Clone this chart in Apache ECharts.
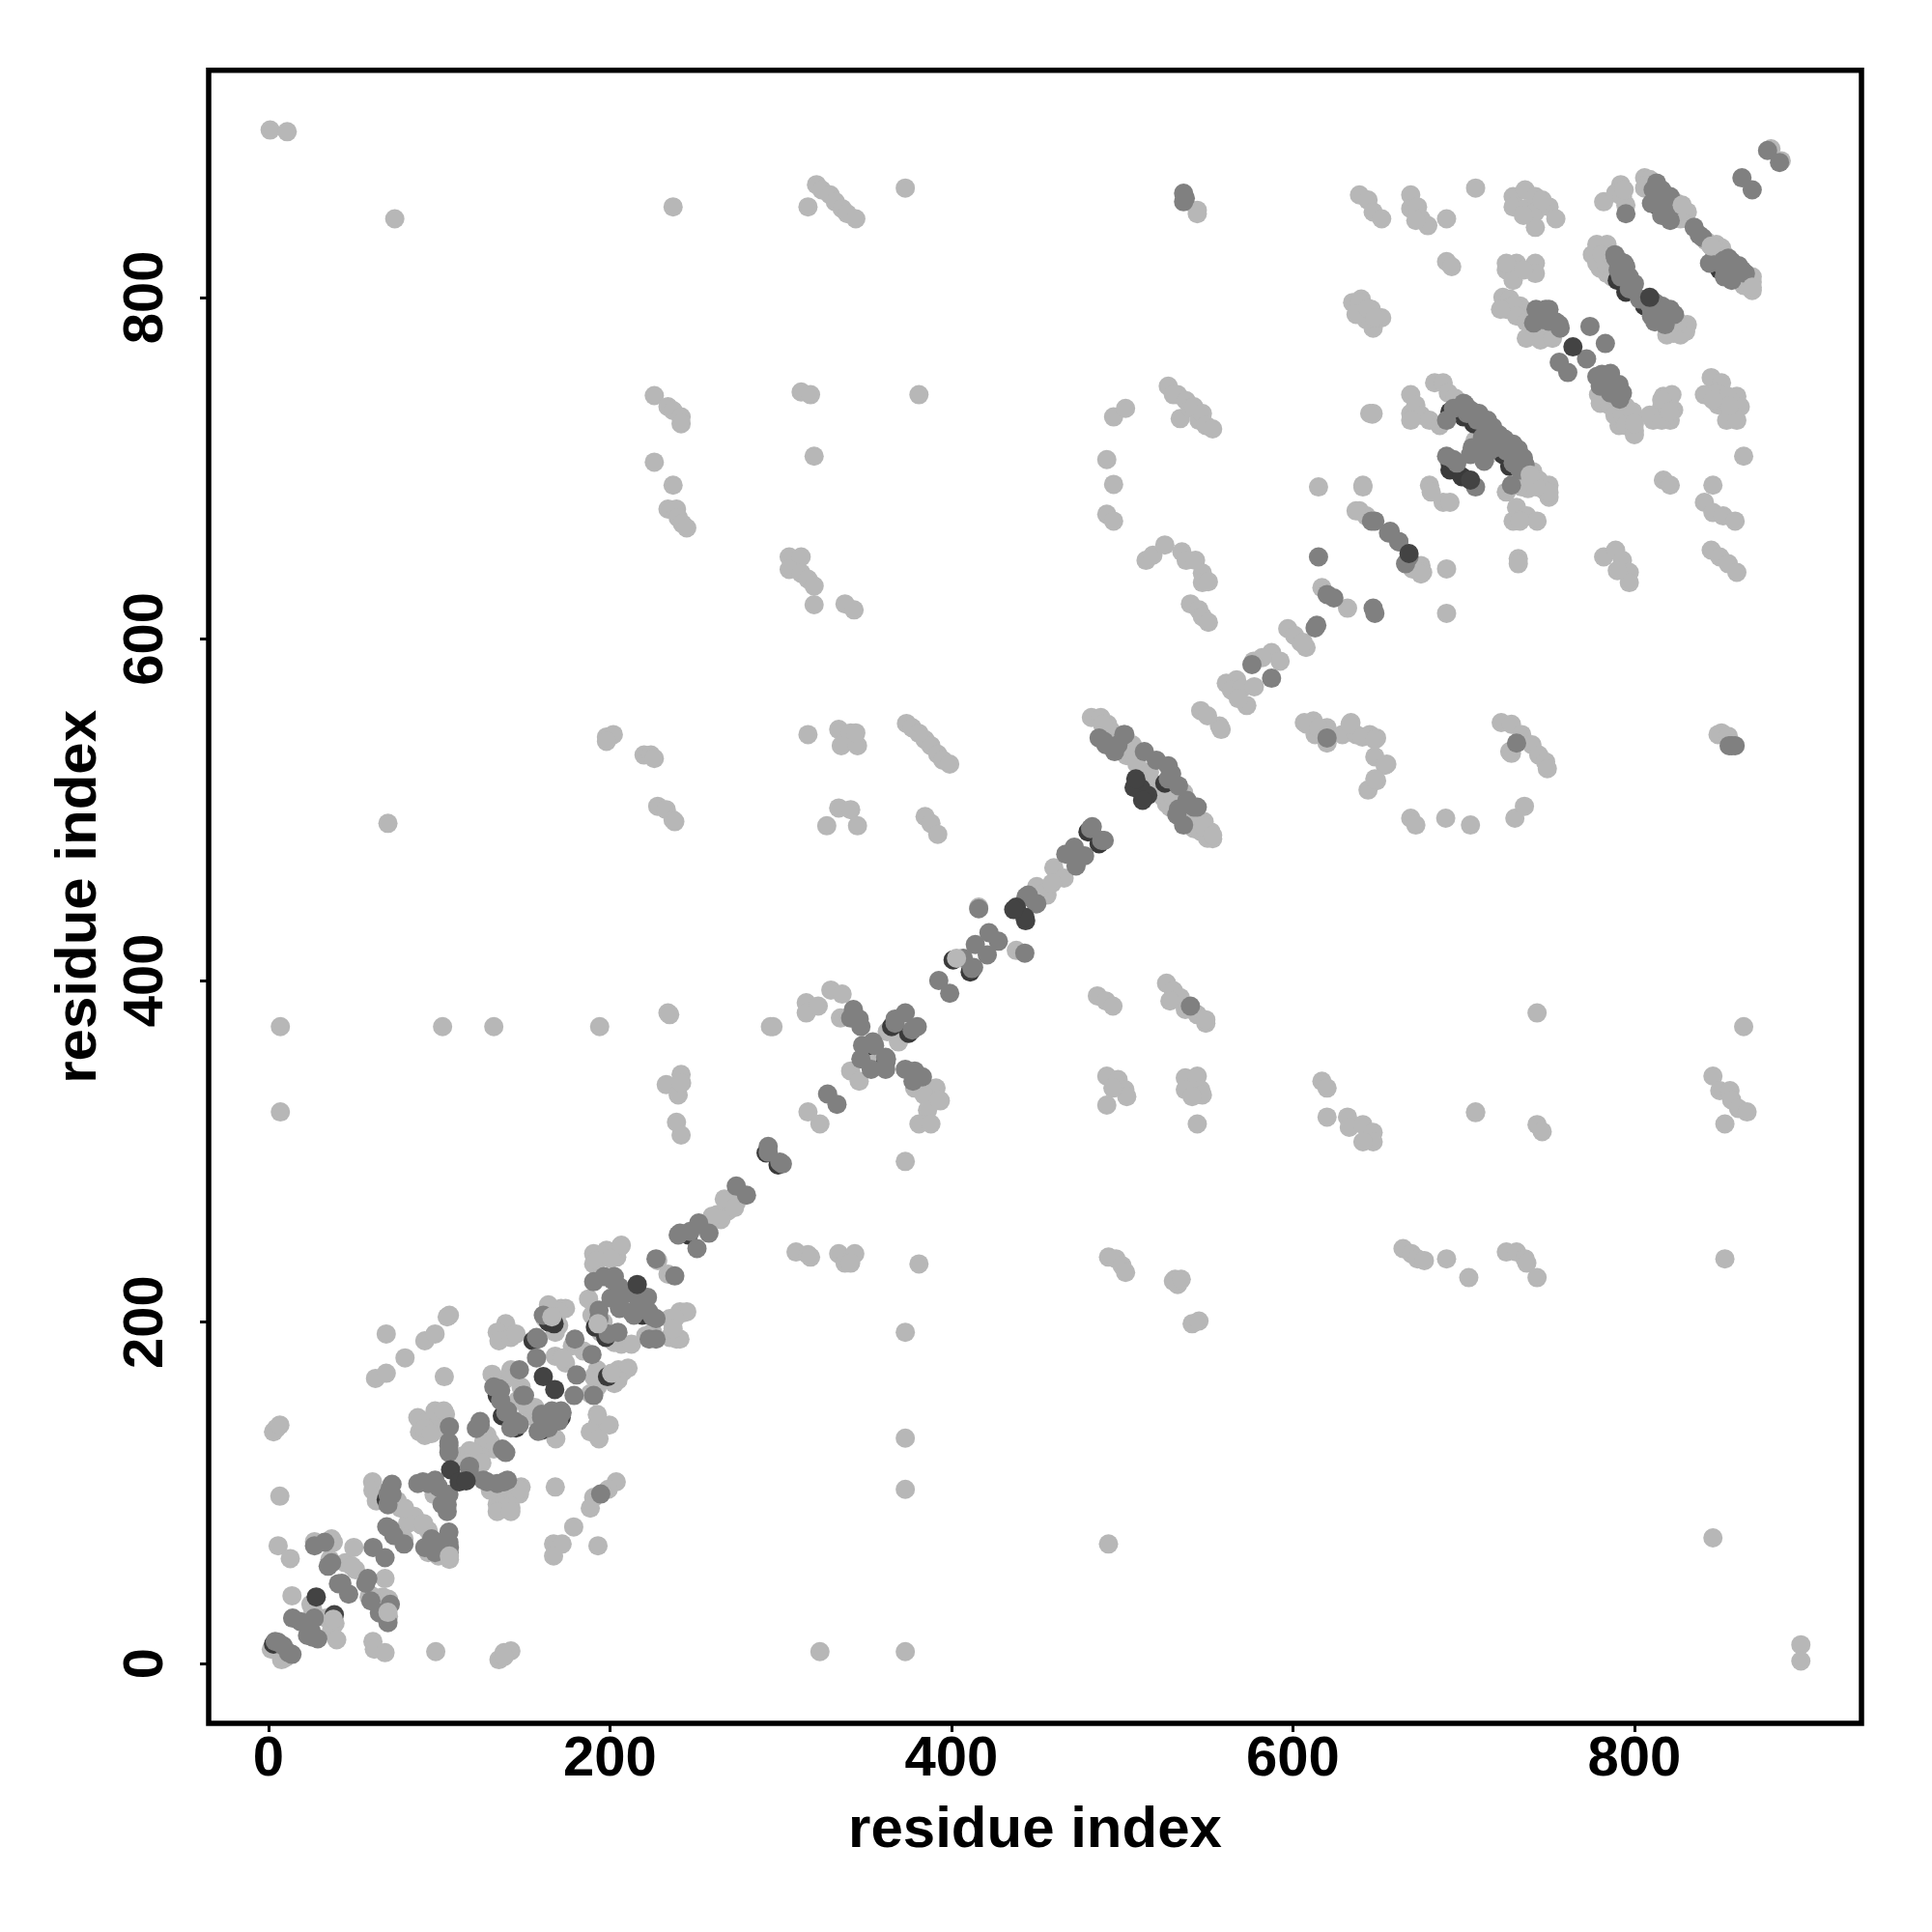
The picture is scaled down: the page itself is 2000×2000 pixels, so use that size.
<!DOCTYPE html>
<html><head><meta charset="utf-8"><style>html,body{margin:0;background:#fff}#c{width:2000px;height:2000px}</style>
<script src="https://cdn.jsdelivr.net/npm/echarts@6/dist/echarts.min.js"></script></head><body><div id="c"></div>
<script>
const tickValues=[0,200,400,600,800];
const axisTitle="residue index";
const lightPoints=[
[1,898],[11,897],[74,846],[237,853],[316,853],[321,866],[324,863],[329,860],[332,856],[336,852],[339,849],[344,846],[373,864],[544,851],[544,849],
[639,860],[644,857],[647,850],[652,846],[669,860],[669,852],[673,853],[675,846],[679,842],[672,845],[690,846],[707,864],
[729,859],[729,853],[736,863],[736,852],[742,859],[742,850],[750,853],[754,846],[742,841],[735,848],[746,857],
[782,856],[792,866],[789,861],[793,859],[795,854],[794,863],[806,870],[809,869],[808,866],[806,864],[828,852],[830,848],[823.5,851.6],[825,855],[831,850],[827,846],[845,830],[851,829],[842,833],[848,831],[852,826],[847,825],[869,809],[869,804],[864,807],[869,812],[880,887],[886,880],
[690,821],[693,818],[725,816],[731,820],[742,820],[742,814],[729,810],[725,820],[735,816],
[779,829],[779,823],[780,817],[784,814],[778,831],[784,831],[775.4,825],[778,820],[781,825],[784,818],[786,825],[787,812],[824,786],[830,780],[823,779],[821.6,780],[827,778],[831,784],[825.4,785.6],[819,778],
[640,799],[646,793],[652,788],[647,782],[638,793],[643,787],[635,797],[639,797],[637,790],[644,793.6],[648,788],
[723,800],[727,799],[725,793],[733,795],[735,789],[741,782],[748,780],[745,775],[742.4,778],[736.7,776],[746,776],[752,776],[729,795],[731,789],[721.6,793],[736.7,785.6],
[779,743],[780,738],[795,736],[800,728],[800,722],[791,725],[785.7,736.6],[788.6,731],[793,731],[799,733],[795,725],[800,719.6],
[817,742],[822,743],[811,728],[821,728],[816,736],[809,731],[816,728],[816,740],[823,734],[820.6,733],
[845,753],[841,743],[851,750],[849,737],[860,742],[862,736],[854,728],[860,728],[848,744],[854.6,742],[855.5,736.6],[846,740],[864,707],
[817,693],[821,690],[846,690],[841,680],[846,674],[852,672],[859,669],[845,652],[850,648],[855,644],[860,639],
[782,648],[789,652],[793,646],[797,639],[797,633],[790,640],[732,647],[732,644],
[645,732],[647,732],[669,743],[669,732],[672,737],[675,731],[680,728],[686,725],[669,728],
[683,750],[688,750],[691,744],[695,741],[713,706],[708,712],[706.6,716],[739,694],[746,688],[750,683],[736,691],[750,690],[740.5,698],[744,693],[748,686.6],[750,685.7],[734,689],[737.7,688],[742.4,689],
[641,690],[680,690],[688,680],[681,686],[692,680],[725,686],[731,677],[729,669],[737,672],[743,669],[733,669],
[639,675],[643,672],[675,643],[676,639],[690,641],
[482,554],[487.5,554],[491.5,550],[493.6,546],[488.5,550],[506,538],[504,532],[502.6,531.7],[506.7,531.7],[508.7,526.7],[514.8,519.6],[517.8,515.6],[516,522],[534,511.6],[536,510],[526,503.5],[523.9,507.5],[528,501.5],[530,507.5],[538,496.4],[548,493],[552,487],[553,483],[544,496],[542,489],[546,487.3],[550,483.3],
[460,466],[466,460],[450,455],[456,450],[454,451],[459,457],[438,417.6],[416,443],
[546,558],[557,549],[550,555],[558,547],[561,574],[567,576],[564,570],[570,571],[573,561],[577.4,572],[577,587],[587.5,592],[592.5,587],[568,565],[582,589],[604.7,598],[607.7,595],
[597,606],[601,602],[606,598],[617,630],[632,618],[615,689],[641,689],[637,675],[670,641],[675,638],[690,615],
[606.7,551],[612,552],[613,544],[620,548],[620,539],[629,544],[634,551],[637,544],[645,544],[649,542],[648,531],[654,526],[644,511.5],[649,517],
[669,495],[672,491],[689.5,495],[704,491],[730,495],[735.6,502],[722,551],[728,550],[734,544],[740,538],[728,533],[744,532],[748,528],[749,524],
[485.5,391],[490.5,388],[494.6,385],[526,398.4],[530,394],[534,390],[544,380],[549,375],[528,388],[537,383],[743,381],
[491,344],[497.6,342],[501.6,336],[502.7,332],[494.6,337],[491,327],[537,343],[544,344],[537,336],[546,336],[547,333],[541,332],[544,316],
[617,341],[620,337],[620,320],[632,320],[633,314],[641,315.6],[647,311],[647,305.5],[641,305.5],[707,322.6],[743,315.6],[746,311.5],
[315,387],[315,381],[322,385],[329.4,394.4],[336,392],[335,378],[295.5,373],[362.4,370],[369,364],[356,352],[350,358],[341,347],[346,341],[316,323],[323,316],
[378.5,337],[391,337],[384,333],[393.5,329.5],[386,324],[381,316],[388,316],[373,294],
[263,263],[269,265],[274,270],[265,260],[260,262],[267,272],[273,267],[228,236],[234,228],
[190.5,240],[190.5,234],[198,242],[206,244],[204,238],[192.6,236],[201.6,241],[206.7,245],[200.6,237],[187.5,213.5],[205.6,210],[243,205.4],[241,206],[235,202],[245,206],[238,202],[239,190],[235,191],[241,190],[237,196],[225,194],[221,192],[189.5,204],[196,200],[194.6,200],[198.6,194],[202.6,188],[206.7,187],[194.6,194],[212.6,187],
[171.4,208],[166,205],[174,208],[170,206],[164,210],[162,202],[170,198],[178,186],[168,180],[174,176],[168,194],[184.5,183],[172.4,179],[190.5,168],[192.6,172],[205,172],[210.6,173],[202.6,164],[188.5,158],[192.6,162],[207.7,171],[204.7,166],[192.6,166],[143,168],[142,172],[138,166],[148,162],[146,154],[152,148],[156,150],[131,169.4],[158,142],[168.3,131.6],
[139,199],[134,194],[135,189],[142,191],[145,193],[69,193],[80,179],[91.6,189],[97.6,193],[104.7,203],[106,204],[62.7,167],[69,170],[103,168],
[4.7,137.7],[3,135.7],[6.7,139.7],[88.5,143],[88.5,135.7],[87.5,144],[93.6,142],[99.6,145],[103.7,146],[91.6,133.6],[101.7,137.7],[97.6,148],[102.7,148],[91.6,137.7],[95.6,134.7],
[128,133.7],[130,129.6],[126,129.6],[132,125.6],[117.8,124.6],[124,121.5],[113.8,121.5],[120,123.6],[125,117.5],[115.8,117.5],[132,103.4],[136,99.3],[142,102.4],[148,103.4],[147,99.3],[138,93.3],[134,93.3],[142,91.3],[130,101.4],[145,100],[134,89],[142,89],[147,102],[97,99],
[61,106.4],[61.2,101.4],[63.2,95.3],[75.4,95.3],[77.4,91],[85.5,86.2],[89.5,81.2],[93.6,78],[81.5,82],[75.4,76],[64,98],[79.8,91],[91,82],[79.4,73],[97.6,71],[93.6,65],[99.6,63],[101.7,65],[106,61],[168,103.4],[178.8,80],[167,70],[172,70],[167,63],[193,69],[190.5,97.3],[188.5,91],[203.7,106.4],[199,102],
[192.6,139.7],[199.6,139.7],[188.5,135.7],[193.6,131.6],[192.6,145.8],[6.7,98],[5.7,69],[12.8,61.5],[27,71.4],[38,71],[37,73],[36,61],[45,59],[51,55],[50,68],[49,57],[68.3,49.8],[70.3,37.7],[59,39],[67,39],[60,40],[70.3,27.6],
[13.8,39.7],[24.9,34.7],[26,31.6],[34,26.6],[38,25.6],[39,23.6],[37,19.5],[40,13.9],[1.7,8.4],[7.7,2.3],[9.7,3.3],[61.2,12.9],[62,8.4],[68.3,6.4],[98,7],[138,6.4],[142,7.4],[135,2.3],[138,4],
[846,73.6],[492,70],[373,7],[323,7],[897.5,11],[897.5,1.5],[373,102],[373,132],[373,194],[7,323],[7,373],[102,373],[132,373],[194,373],[294,373],[707,323],[853,316],
[853,237],[703,226],[690,237],[664.5,243],[669.5,240],[673,237],[677,236],[725,241],[731,241],[736,237],[737,234.5],[743,226],[492,238],[496.4,237],[500,233],[502,229],
[531,225],[532.5,222],[530,224],[534.6,225],[541,199],[545,200.6],[309,241],[316,239.5],[317.5,238],[334,240],[343.4,240],[337.7,234.5],[341,234.5],[381,234],
[234,381],[235,380],[241.7,345],[233,339],[240,333],[242,340],[239,317],[241.7,309.5],
[198,542.6],[202,544],[198,540],[220,532],[224,532],[226,530],[228,502],[233,500],[237,494],[238,493],[70,492],
[316,544],[334,547],[341,545],[335.5,537.5],[345,537.5],[344,545],[334,501],[341,500],[345,490.6],[327,490.6],
[373.7,550.5],[377,548],[384.6,541],[388,537.5],[392,532.5],[395,529],[399,526.7],[381,544.7],[384.6,496],[388,492],[392,485.6],
[608,550],[615,548],[633.5,550],[640.7,542.6],[648,541],[655,526.7],[648,518],[727,534],[851,545],[849,544],[855,543],
[491,705],[495,690.5],[491,673],[495,669],[495,730],[502,735],[514,646],[518,649],[525,655],[535,651],[537.5,646],[543,646],[547,638.5],[547,633],[550.5,633.5],[540,620.5],[545,617],[547,613],[550.5,609.7],
[527,748],[532.5,743],[530,743],[537.5,739.5],[534,729],[540,735],[545,728],[542,736],[547,732],[549,725],[553,723],
[319.6,707],[312,744.6],[317.5,743],[381,743],[305,648],[312,648],[305,640.7],[312,638.5],[316,635],[319.6,631],[319.6,620],[337.7,620.5],[343,617],
[226,742.5],[234,736],[237,733.7],[241.7,730],[241.7,726],[226,703.5],[237,690],[234,676],[239,676],[240,671],[242.5,667.4],[245,665],
[646.5,731.6],[846,344],[850,335.5],[856,335.5],[857,330],[861,325],[866,323],[864,373]
];
const midPoints=[
[536,861],[536,856],[537,858],
[795,849],[811,863],[813,867],[816,863],[814,858],[810,855],[816,848],[819,857],[821,859],[821,845],[824,854],[814,856],[818,854],[835,841],[838,836.5],[840,835],[844,820],[852,821.5],[856.5,818],[861,818.6],[865,814],[852.7,812],[857,810],[852,818],[855,823],[857,821],[863,816],[863,870],[869,863],[878,886],[885,879],
[788.6,825],[791,821.5],[795,818],[790.5,816],[797,812],[799,806],[803,799],[812,797],[810,793],[814,790.3],[823.5,790],[816,785.6],[812,785.6],[792,812],[797,805],[808,797],[789,823],[794,820],[800,808],[816,795],[821,793],[810,789],[818,784],
[745,792],[742.4,793],[746,787],[754,785.6],[756.5,782],[750,793],[748,793],[756,784],[741,785],[750,786],[774,783],[783,773],[772,764],[756,762],[761,756],[781,755],[778,753.6],[786,755.5],[780,748],[787.6,749.8],[793,744],[791.4,740.4],[791,749],[786,744],
[690,728],[694,735],[700,738],[702,732],[704,734],[707.5,732],[708,728],[711,729],[715,724],[718,720.6],[720.7,719.6],[725.4,714],[725,710],[729,714],[735,706],[729,706],[729,703],[733,699],[710,710],[715,710],[704,708],[694,705],[701,737],[709,732],[714,728],[717,724],[705,712],[711,718],[712,704],[718,712],[724,717],[732,711],[736,702],[728,690],[690,707],[696,703],[707,689],
[648,669],[657,663],[662,657],[668,648],[666,644],
[486.5,542],[489.5,540],[497.6,538],[501,544],[501.6,544],[490.5,538],[495.6,534],[513,534],[520,529],[527,525.7],[529,521],[527,518],[533,514],[532,497],[533,500.4],[538,505.5],[544,501.5],[542,501.5],[536,491],
[482.5,490],[481.5,489],[488,482],[489.5,482],[472,478],[467,474],[478,473],[473,467],[445,450],[450,445],[443,416],[416,442],[449.5,445],[443.7,449],
[576,585],[587.5,577],[613,606.5],[614,608],[615,648],[620,626],[624,624],[647,618],[648,615],[646,669],[656,662],[662,657],[620,542],[731,539],[540,385],[855.5,537.5],[859,537.5],[857,537.5],
[422,428],[414,421],[427.5,423],[421,415],[407,413],[413,407.6],[412,407],[392.6,400],[399,392.5],
[342.6,383],[346,377.4],[347,373],[341,378],[373,381],[367,377.4],[367,375],[377,371],[380,373],[355,362],[354,364],[348,362],[361.5,355],[362,354],[347,354],[353,348],[361.5,348],[327.5,333.5],[333,327.5],
[373,348],[378.5,347],[383,343.5],[377.5,341],[292.7,302.8],[292.7,299.4],[299.5,293.7],[301,292.6],[274,279.6],[280,274.3],[240,251],[241,252],[247,253],[252,258],[258,252],[251,243],[227,237],[238,227],
[190.5,223.6],[201.6,224.6],[202.6,226.6],[196.6,226.6],[205.6,220.5],[208.7,216.5],[200.6,214],[205.6,208],[212.6,206],[212,217.5],[217,212.5],[219,208],[222.7,206],[227,202],[222,214.5],[214,204],[225,203],[227,190],[223,190],[193.6,202],[193.6,207],[204.7,194],[199,193],
[161,204],[158,190],[157,191],[179.5,190],[189.5,181],[157,179],[180.5,169],[179,157],[190.5,157],[147,172],[132,162],[136,154],[135,161],[136,160],[150,157],[149,157],[139,147],[140,148],[147,140],[144,142],[142,138],[160,144],[160,146],[166,148],[170,142],[172,147],[164,138],[158,136],[162,139],[171.4,148],
[106,138.7],[105.7,127.6],[105.7,129.6],[105.7,123.6],[124,139.7],[124,141.7],[121.8,137.7],[138,124.6],[137,125.6],[139,123.6],[117.8,115.5],[117.8,111.4],[125.9,107.4],[128,106.4],[134,105.4],[140,107.4],[138,106.4],[105.7,99],[104.7,93],[104.7,89],[101.7,93.3],[93.6,105.4],[87.5,105.4],[90.5,106.4],[97.6,107.4],[99.6,103.4],
[72.4,105],[71.3,102.4],[72.4,99],[70,99],[70,93],[71.3,79],[69.3,80.1],[73.4,75],[79.4,70],[91.6,68],[95.6,73],[101.7,71],[105.7,71],[105.7,77],[106,68],[97.6,65],[194.6,99.3],
[27,69],[33,71],[37,59],[35,57],[61.3,68],[68.3,62],[41,46.8],[43,47],[47,40.7],[57,47],[58.2,49.8],[60,36.7],[71.4,34.7],[65,29.6],[14.2,26.6],[18.8,24.6],[26.9,26.6],[22.9,16.5],[28.9,14.5],[25.9,15.5],[25,19],[5.7,12.5],[8.7,10.4],[4,13],[13.8,5.4],[11.8,6.4],[70,24]
];
const shadowDarkPoints=[
[813,854],[817,852],[850,816],[790,810],[795,803],[806,795],[692,733],[700,730],[706,726],[723,708],[727,701],[692,703],[692,699],[699,695],
[525,515.5],[480,487],[486.5,480],[375,369],[365,373],[352,362],[361.5,352],[401,412],[411,405],[246,251],[219,204],[164,200],[167.3,199],[155,189],[191.5,197],[197.6,191],[198.6,168],[134,157],[137,145],[145,138],[171.4,144],[160,136.7],[105.7,65],[69,96],[3,11.4],[291.5,299],[298.5,292]
];
const darkPoints=[
[443.5,435],[438,443],[443,437],[436.5,441.5],[511,512.5],[507,513],[515,508.5],[512,505.5],[508,518],[216,222],[161,168],[167.7,160.5],
[106.7,113.5],[111.7,106.4],[115.8,107],[28,39],[38.6,28.6],[764,771],[809,800],[704,693],[668,650]
];
const lightTopPoints=[[828,854],[845,830],[800,726],[869,806],[739,696],[548,490],[553,485],[549,377],[393,330],[106,63],[70,30],[38,26],[403,413],[166,203],[193,199],[201,170]];
const greys={shadow:'#3a3a3a',light:'#b7b7b7',mid:'#808080',dark:'#434343'};
function s(data,color){return{type:'scatter',data:data,symbol:'circle',symbolSize:20,itemStyle:{color:color,opacity:1},silent:true,animation:false,large:false,progressive:0};}
const font={fontFamily:'Liberation Sans',fontWeight:'bold',fontSize:58,color:'#000'};
function ax(){return{type:'value',min:-35,max:933,splitLine:{show:false},axisLine:{show:false,onZero:false},
 axisTick:{show:true,customValues:tickValues,length:9,lineStyle:{color:'#000',width:3}},name:axisTitle,nameLocation:'middle',nameTextStyle:Object.assign({},font,{fontSize:60})};}
const chart=echarts.init(document.getElementById('c'),null,{renderer:'canvas'});
chart.setOption({animation:false,backgroundColor:'#fff',
 grid:{show:true,left:216,top:72.7,width:1711,height:1711.3,borderColor:'#000',borderWidth:5.5,backgroundColor:'transparent'},
 xAxis:Object.assign(ax(),{nameGap:81,axisLabel:Object.assign({},font,{customValues:tickValues,margin:9})}),
 yAxis:Object.assign(ax(),{nameGap:104,axisLabel:Object.assign({},font,{customValues:tickValues,rotate:90,margin:35,align:'center',verticalAlign:'bottom'})}),
 series:[s(lightPoints,greys.light),s(shadowDarkPoints,greys.shadow),s(midPoints,greys.mid),s(darkPoints,greys.dark),s(lightTopPoints,greys.light)]});
</script></body></html>
